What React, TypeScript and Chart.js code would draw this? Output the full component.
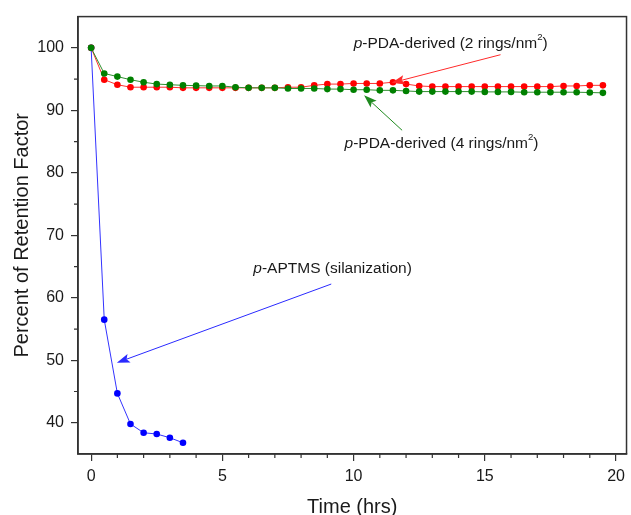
import React, { useEffect, useRef } from "react";
import { Chart, registerables } from "chart.js";

Chart.register(...registerables);

// ---- data ----
const aptmsTime = [0, 0.5, 1, 1.5, 2, 2.5, 3, 3.5];
const aptmsValue = [100, 56.5, 44.7, 39.8, 38.4, 38.2, 37.6, 36.8];

const pdaTime = [
  0, 0.5, 1, 1.5, 2, 2.5, 3, 3.5, 4, 4.5, 5, 5.5, 6, 6.5, 7, 7.5, 8, 8.5, 9, 9.5,
  10, 10.5, 11, 11.5, 12, 12.5, 13, 13.5, 14, 14.5, 15, 15.5, 16, 16.5, 17, 17.5, 18, 18.5, 19, 19.5,
];
const pda2Value = [
  100, 94.9, 94.1, 93.7, 93.7, 93.7, 93.7, 93.6, 93.6, 93.6, 93.6, 93.6, 93.6, 93.6, 93.6, 93.7, 93.7, 94.0, 94.2, 94.2,
  94.3, 94.3, 94.3, 94.5, 94.2, 93.9, 93.8, 93.8, 93.8, 93.8, 93.8, 93.8, 93.8, 93.8, 93.8, 93.8, 93.9, 93.9, 94.0, 94.0,
];
const pda4Value = [
  100, 95.9, 95.4, 94.9, 94.5, 94.2, 94.1, 94.0, 93.95, 93.9, 93.9, 93.7, 93.6, 93.6, 93.6, 93.5, 93.5, 93.5, 93.4, 93.4,
  93.3, 93.3, 93.2, 93.2, 93.1, 93.0, 93.0, 93.0, 93.0, 93.0, 92.95, 92.95, 92.95, 92.9, 92.9, 92.9, 92.9, 92.9, 92.85, 92.8,
];

const xTicks = [0, 5, 10, 15, 20];
const xMinorTicks = [1, 2, 3, 4, 6, 7, 8, 9, 11, 12, 13, 14, 16, 17, 18, 19];
const yTicks = [40, 50, 60, 70, 80, 90, 100];
const yMinorTicks = [45, 55, 65, 75, 85, 95];

const xTitle = "Time (hrs)";
const yTitle = "Percent of Retention Factor";

type Seg = { t: string; it?: boolean; sup?: boolean };
// annotations: label segments, label centre, arrow tail, arrow tip (data coords)
const annotations: { segs: Seg[]; label: [number, number]; tail: [number, number]; tip: [number, number]; color: string }[] = [
  {
    segs: [{ t: "p", it: true }, { t: "-PDA-derived (2 rings/nm" }, { t: "2", sup: true }, { t: ")" }],
    label: [13.7, 100.6],
    tail: [15.6, 98.9],
    tip: [11.45, 94.4],
    color: "#ff2a2a",
  },
  {
    segs: [{ t: "p", it: true }, { t: "-PDA-derived (4 rings/nm" }, { t: "2", sup: true }, { t: ")" }],
    label: [13.35, 84.7],
    tail: [11.85, 86.8],
    tip: [10.4, 92.4],
    color: "#1f8a1f",
  },
  {
    segs: [{ t: "p", it: true }, { t: "-APTMS (silanization)" }],
    label: [9.2, 64.6],
    tail: [9.15, 62.2],
    tip: [0.98, 49.6],
    color: "#2a2aff",
  },
];

const FONT = "'Liberation Sans', Arial, sans-serif";

function drawRich(ctx: CanvasRenderingContext2D, segs: Seg[], cx: number, cy: number, size: number) {
  const fontFor = (s: Seg) => `${s.it ? "italic " : ""}${s.sup ? size * 0.62 : size}px ${FONT}`;
  let total = 0;
  for (const s of segs) {
    ctx.font = fontFor(s);
    total += ctx.measureText(s.t).width;
  }
  let x = cx - total / 2;
  ctx.textBaseline = "middle";
  ctx.textAlign = "left";
  ctx.fillStyle = "#1a1a1a";
  for (const s of segs) {
    ctx.font = fontFor(s);
    ctx.fillText(s.t, x, s.sup ? cy - size * 0.42 : cy);
    x += ctx.measureText(s.t).width;
  }
}

function drawArrow(ctx: CanvasRenderingContext2D, x1: number, y1: number, x2: number, y2: number, color: string) {
  const ang = Math.atan2(y2 - y1, x2 - x1);
  const len = 13;
  const hw = 4.5;
  ctx.strokeStyle = color;
  ctx.fillStyle = color;
  ctx.lineWidth = 1;
  ctx.beginPath();
  ctx.moveTo(x1, y1);
  ctx.lineTo(x2 - Math.cos(ang) * len * 0.8, y2 - Math.sin(ang) * len * 0.8);
  ctx.stroke();
  ctx.beginPath();
  ctx.moveTo(x2, y2);
  ctx.lineTo(x2 - Math.cos(ang) * len + Math.sin(ang) * hw, y2 - Math.sin(ang) * len - Math.cos(ang) * hw);
  ctx.lineTo(x2 - Math.cos(ang) * len * 0.8, y2 - Math.sin(ang) * len * 0.8);
  ctx.lineTo(x2 - Math.cos(ang) * len - Math.sin(ang) * hw, y2 - Math.sin(ang) * len + Math.cos(ang) * hw);
  ctx.closePath();
  ctx.fill();
}

const extrasPlugin = {
  id: "extras",
  afterDraw(chart: any) {
    const { ctx, chartArea, scales } = chart;
    const xs = scales.x;
    const ys = scales.y;
    ctx.save();
    // frame
    ctx.strokeStyle = "#333";
    ctx.lineWidth = 1.5;
    ctx.strokeRect(chartArea.left, chartArea.top, chartArea.right - chartArea.left, chartArea.bottom - chartArea.top);
    // minor ticks
    ctx.lineWidth = 1.2;
    ctx.beginPath();
    for (const v of xMinorTicks) {
      const px = xs.getPixelForValue(v);
      ctx.moveTo(px, chartArea.bottom);
      ctx.lineTo(px, chartArea.bottom + 4);
    }
    for (const v of yMinorTicks) {
      const py = ys.getPixelForValue(v);
      ctx.moveTo(chartArea.left, py);
      ctx.lineTo(chartArea.left - 4, py);
    }
    ctx.stroke();
    // annotations
    for (const a of annotations) {
      drawArrow(
        ctx,
        xs.getPixelForValue(a.tail[0]),
        ys.getPixelForValue(a.tail[1]),
        xs.getPixelForValue(a.tip[0]),
        ys.getPixelForValue(a.tip[1]),
        a.color
      );
      drawRich(ctx, a.segs, xs.getPixelForValue(a.label[0]), ys.getPixelForValue(a.label[1]), 15.5);
    }
    ctx.restore();
  },
};

export default function App() {
  const ref = useRef<HTMLCanvasElement>(null);
  useEffect(() => {
    document.body.style.margin = "0";
    const toXY = (xs: number[], ys: number[]) => xs.map((x, i) => ({ x, y: ys[i] }));
    const chart = new Chart(ref.current!, {
      type: "line",
      data: {
        datasets: [
          {
            label: "p-APTMS (silanization)",
            data: toXY(aptmsTime, aptmsValue),
            borderColor: "#3333ff",
            backgroundColor: "#0000ff",
            borderWidth: 1,
            pointRadius: 3.3,
            pointBorderWidth: 0,
            order: 3,
          },
          {
            label: "p-PDA-derived (2 rings/nm2)",
            data: toXY(pdaTime, pda2Value),
            borderColor: "#ff3030",
            backgroundColor: "#ff0000",
            borderWidth: 1,
            pointRadius: 3.3,
            pointBorderWidth: 0,
            order: 2,
          },
          {
            label: "p-PDA-derived (4 rings/nm2)",
            data: toXY(pdaTime, pda4Value),
            borderColor: "#2f8f2f",
            backgroundColor: "#008000",
            borderWidth: 1,
            pointRadius: 3.3,
            pointBorderWidth: 0,
            order: 1,
          },
        ],
      },
      options: {
        responsive: false,
        animation: false,
        layout: { padding: { top: 14, right: 2, left: 0, bottom: 0 } },
        plugins: { legend: { display: false }, tooltip: { enabled: false } },
        scales: {
          x: {
            type: "linear",
            min: -0.5,
            max: 20.4,
            afterBuildTicks: (s: any) => {
              s.ticks = xTicks.map((v) => ({ value: v }));
            },
            afterFit: (s: any) => {
              s.height = 61;
            },
            grid: { drawOnChartArea: false, tickLength: 7, color: "#333", lineWidth: 1.2 },
            border: { color: "#333", width: 1.5 },
            ticks: { color: "#1a1a1a", padding: 6, font: { family: FONT, size: 16 }, maxRotation: 0, autoSkip: false },
            title: {
              display: true,
              text: xTitle,
              color: "#1a1a1a",
              font: { family: FONT, size: 20, lineHeight: 1 },
              padding: { top: 0, bottom: -2 },
            },
          },
          y: {
            type: "linear",
            min: 35,
            max: 105,
            afterBuildTicks: (s: any) => {
              s.ticks = yTicks.map((v) => ({ value: v }));
            },
            afterFit: (s: any) => {
              s.width = 78;
            },
            grid: { drawOnChartArea: false, tickLength: 7, color: "#333", lineWidth: 1.2 },
            border: { color: "#333", width: 1.5 },
            ticks: { color: "#1a1a1a", padding: 7, font: { family: FONT, size: 16 }, autoSkip: false },
            title: { display: true, text: yTitle, color: "#1a1a1a", font: { family: FONT, size: 20 }, padding: { top: 10, bottom: 0 } },
          },
        },
      },
      plugins: [extrasPlugin],
    });
    return () => chart.destroy();
  }, []);
  return (
    <div style={{ width: 631, height: 515 }}>
      <canvas ref={ref} width={631} height={515} />
    </div>
  );
}
